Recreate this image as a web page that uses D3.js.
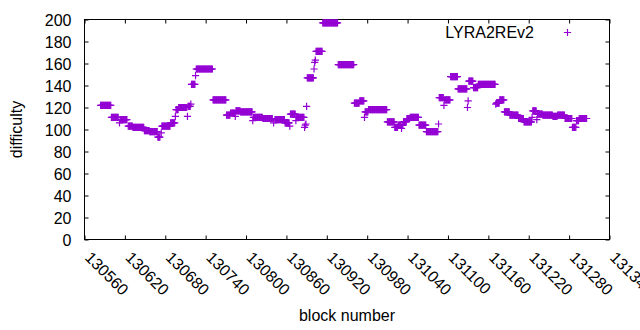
<!DOCTYPE html>
<html><head><meta charset="utf-8">
<script src="https://cdn.jsdelivr.net/npm/d3@7"></script>
<style>
body{margin:0;background:#fff}
svg text{font-family:"Liberation Sans",Arial,sans-serif;font-size:16px;fill:#000}
</style>
</head><body>
<svg id="chart" width="640" height="330"></svg>
<script>
// Runs of consecutive blocks sharing one difficulty value (single blocks have start == end)
const runStart = [130584,130600,130612,130613,130625,130632,130649,130657,130669,130674,130675,130688,130695,130696,130700,130713,130714,130718,130719,130725,130726,130751,130771,130777,130784,130785,130792,130810,130811,130825,130841,130843,130858,130865,130866,130874,130875,130887,130888,130889,130890,130891,130901,130902,130903,130904,130914,130937,130961,130969,130976,130977,130982,131010,131021,131026,131031,131032,131034,131039,131044,131057,131068,131086,131087,131094,131095,131104,131115,131129,131130,131131,131138,131145,131171,131172,131177,131184,131192,131205,131213,131225,131226,131232,131233,131241,131256,131263,131274,131285,131291,131295];
const runEnd   = [130599,130610,130612,130623,130631,130648,130656,130668,130672,130674,130687,130694,130695,130699,130712,130713,130717,130718,130724,130725,130750,130770,130776,130783,130784,130791,130809,130810,130824,130839,130841,130857,130864,130865,130873,130874,130886,130887,130888,130889,130890,130900,130901,130902,130903,130913,130936,130960,130968,130975,130976,130981,131009,131020,131025,131030,131031,131033,131038,131043,131056,131067,131085,131086,131093,131094,131103,131114,131128,131129,131130,131137,131144,131170,131171,131176,131183,131191,131204,131212,131224,131225,131231,131232,131240,131255,131262,131273,131284,131290,131294,131306];
const runDifficulty = [122,111,106,109,103,102,99,98,93,97,103,106,112,118,120,112,121,123,141,149,155,127,113,115,112,117,116,108,111,110,106,109,106,103,114,108,111,102,104,105,121,147,155,161,163,171,197,159,124,126,111,116,118,107,102,104,101,104,107,110,111,104,98,105,129,122,127,148,137,120,126,144,138,141,123,124,127,116,113,110,107,111,117,109,114,113,112,113,110,102,108,110];
const xTickValues = [130560,130620,130680,130740,130800,130860,130920,130980,131040,131100,131160,131220,131280,131340];
const yTickValues = [0,20,40,60,80,100,120,140,160,180,200];
const seriesName = "LYRA2REv2";

const color = "#9400d3";
const svg = d3.select("#chart");
const L = 84.5, R = 609.5, T = 19.5, B = 239.5;
const x = d3.scaleLinear().domain([130560, 131340]).range([L, R]);
const y = d3.scaleLinear().domain([0, 200]).range([B, T]);

const points = runStart.flatMap((s, i) =>
  d3.range(s, runEnd[i] + 1).map(b => ({block: b, difficulty: runDifficulty[i]})));

const tk = 4;
function styleAxis(g){
  g.select(".domain").remove();
  g.selectAll("line").attr("stroke", "#000");
  g.attr("font-family", null).attr("font-size", null);
}
svg.append("g").attr("transform", `translate(${L},0)`)
  .call(d3.axisLeft(y).tickValues(yTickValues).tickSize(-tk).tickPadding(13).tickSizeOuter(0))
  .call(styleAxis)
  .selectAll("text").attr("dy", "0.35em");
svg.append("g").attr("transform", `translate(${R},0)`)
  .call(d3.axisRight(y).tickValues(yTickValues).tickSize(-tk).tickFormat("").tickSizeOuter(0))
  .call(styleAxis);
svg.append("g").attr("transform", `translate(0,${T})`)
  .call(d3.axisTop(x).tickValues(xTickValues).tickSize(-tk).tickFormat("").tickSizeOuter(0))
  .call(styleAxis);
svg.append("g").attr("transform", `translate(0,${B})`)
  .call(d3.axisBottom(x).tickValues(xTickValues).tickSize(-tk).tickFormat(d3.format("d")).tickSizeOuter(0))
  .call(styleAxis)
  .selectAll("text")
  .attr("x", 0).attr("y", 0).attr("dy", "0.35em")
  .attr("text-anchor", "start")
  .attr("transform", "translate(3,15) rotate(45)");

svg.append("rect").attr("x", L).attr("y", T).attr("width", R - L).attr("height", B - T)
  .attr("fill", "none").attr("stroke", "#000").attr("stroke-width", 1);

const s = 3.6;
const plus = (cx, cy) => `M${cx - s},${cy}H${cx + s}M${cx},${cy - s}V${cy + s}`;
svg.append("g").selectAll("path").data(points).join("path")
  .attr("d", d => plus(x(d.block), y(d.difficulty)))
  .attr("stroke", color).attr("stroke-width", 1.2).attr("fill", "none");

// legend
svg.append("text").attr("x", 534).attr("y", 32).attr("dy", "0.35em")
  .attr("text-anchor", "end").text(seriesName);
svg.append("path").attr("d", plus(567.5, 32.5)).attr("stroke", color).attr("stroke-width", 1.2);

// axis titles
svg.append("text").attr("x", (L + R) / 2).attr("y", 321).attr("text-anchor", "middle").text("block number");
svg.append("text").attr("transform", `translate(22,${(T + B) / 2}) rotate(-90)`)
  .attr("text-anchor", "middle").text("difficulty");
</script>
</body></html>
